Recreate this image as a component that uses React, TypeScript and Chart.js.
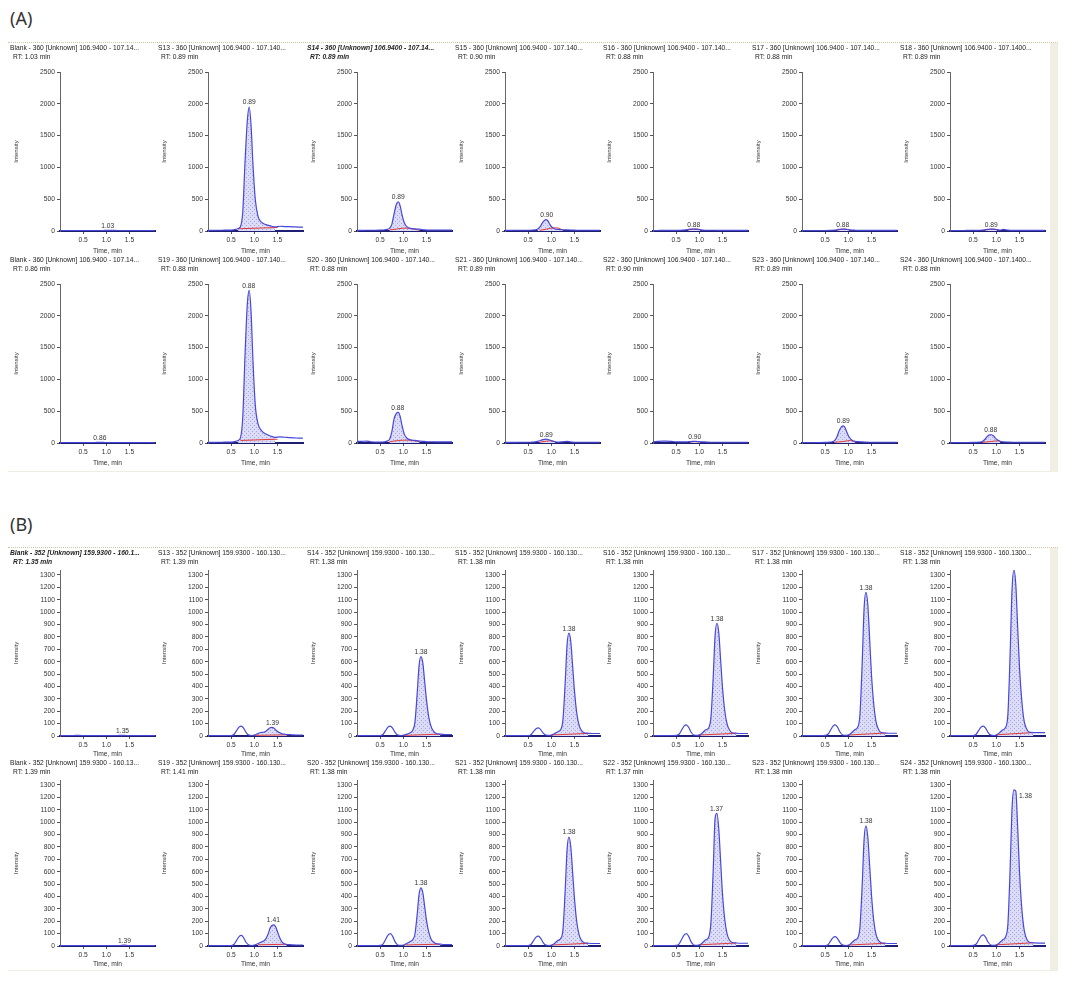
import React, { useEffect, useRef } from "react";
import { Chart, registerables } from "chart.js";
Chart.register(...registerables);
Chart.defaults.font.family = '"Liberation Sans", Arial, sans-serif';
Chart.defaults.color = "#333";

// ---------- shared axes ----------
const TIME_A = [0, 0.1, 0.2, 0.3, 0.4, 0.5, 0.6, 0.65, 0.7, 0.75, 0.8, 0.85, 0.89, 0.93, 0.97, 1.02, 1.08, 1.15, 1.25, 1.35, 1.45, 1.55, 1.65, 1.75, 1.85, 1.95, 2.05];
const TIME_B = [0, 0.1, 0.2, 0.3, 0.4, 0.5, 0.56, 0.62, 0.67, 0.72, 0.77, 0.82, 0.88, 0.95, 1.02, 1.08, 1.14, 1.2, 1.25, 1.3, 1.34, 1.38, 1.42, 1.46, 1.5, 1.55, 1.6, 1.65, 1.7, 1.8, 1.9, 2.0, 2.05];
const X_TICKS = [0.5, 1.0, 1.5];
const Y_TICKS_A = [0, 500, 1000, 1500, 2000, 2500];
const Y_TICKS_B = [0, 100, 200, 300, 400, 500, 600, 700, 800, 900, 1000, 1100, 1200, 1300];

// ---------- (A) titles / RT ----------
const A_TITLES = [
  "Blank - 360 [Unknown] 106.9400 - 107.14...",
  "S13 - 360 [Unknown] 106.9400 - 107.140...",
  "S14 - 360 [Unknown] 106.9400 - 107.14...",
  "S15 - 360 [Unknown] 106.9400 - 107.140...",
  "S16 - 360 [Unknown] 106.9400 - 107.140...",
  "S17 - 360 [Unknown] 106.9400 - 107.140...",
  "S18 - 360 [Unknown] 106.9400 - 107.1400...",
  "Blank - 360 [Unknown] 106.9400 - 107.14...",
  "S19 - 360 [Unknown] 106.9400 - 107.140...",
  "S20 - 360 [Unknown] 106.9400 - 107.140...",
  "S21 - 360 [Unknown] 106.9400 - 107.140...",
  "S22 - 360 [Unknown] 106.9400 - 107.140...",
  "S23 - 360 [Unknown] 106.9400 - 107.140...",
  "S24 - 360 [Unknown] 106.9400 - 107.1400...",
];
const A_RT = ["1.03", "0.89", "0.89", "0.90", "0.88", "0.88", "0.89", "0.86", "0.88", "0.88", "0.89", "0.90", "0.89", "0.88"];
const A_BOLD = [false, false, true, false, false, false, false, false, false, false, false, false, false, false];

// (A) traces on TIME_A
const A_BLANK_1 = [8, 8, 8, 8, 8, 8, 8, 8, 8, 8, 8, 8, 8, 8, 9, 10, 10, 9, 8, 8, 8, 8, 8, 8, 8, 8, 8];
const A_S13 = [10, 10, 12, 12, 15, 15, 25, 40, 70, 300, 1100, 1750, 1950, 1650, 1050, 500, 230, 140, 100, 80, 65, 75, 70, 68, 65, 62, 60];
const A_S14 = [10, 10, 12, 12, 12, 15, 20, 25, 40, 100, 270, 420, 460, 400, 260, 130, 65, 42, 32, 28, 20, 15, 15, 15, 14, 14, 14];
const A_S15 = [10, 10, 12, 12, 12, 12, 15, 18, 28, 60, 120, 165, 180, 155, 100, 55, 32, 25, 20, 18, 15, 12, 12, 12, 12, 12, 12];
const A_S16 = [8, 8, 10, 10, 10, 10, 12, 15, 18, 22, 28, 30, 30, 28, 25, 20, 15, 12, 12, 12, 10, 10, 10, 10, 10, 10, 10];
const A_S17 = [8, 8, 8, 8, 8, 8, 10, 12, 15, 20, 26, 30, 30, 28, 24, 20, 14, 12, 10, 10, 10, 10, 10, 10, 10, 10, 10];
const A_S18 = [8, 8, 8, 8, 10, 12, 10, 12, 15, 20, 25, 28, 30, 28, 25, 20, 15, 25, 15, 10, 10, 10, 10, 10, 10, 10, 10];
const A_BLANK_2 = [8, 8, 8, 8, 8, 8, 8, 8, 8, 8, 9, 10, 10, 9, 8, 8, 8, 8, 8, 8, 8, 8, 8, 8, 8, 8, 8];
const A_S19 = [10, 10, 12, 12, 15, 15, 25, 40, 80, 400, 1400, 2200, 2400, 2050, 1300, 600, 300, 200, 140, 110, 90, 95, 90, 85, 80, 78, 75];
const A_S20 = [25, 25, 30, 20, 15, 15, 20, 30, 55, 170, 380, 465, 480, 420, 280, 140, 75, 50, 40, 30, 25, 20, 20, 18, 18, 18, 18];
const A_S21 = [10, 10, 10, 12, 12, 12, 15, 18, 25, 35, 50, 58, 60, 55, 45, 30, 20, 15, 20, 25, 15, 12, 12, 12, 12, 12, 12];
const A_S22 = [20, 25, 30, 30, 25, 20, 18, 18, 18, 20, 22, 24, 25, 25, 22, 20, 18, 15, 12, 12, 12, 12, 12, 12, 12, 12, 12];
const A_S23 = [8, 8, 8, 8, 8, 10, 15, 20, 35, 90, 190, 255, 270, 240, 165, 90, 45, 25, 20, 15, 12, 12, 12, 12, 12, 12, 12];
const A_S24 = [8, 8, 8, 8, 8, 10, 12, 15, 25, 55, 100, 128, 130, 118, 85, 50, 28, 18, 15, 12, 12, 12, 12, 12, 12, 12, 12];
const A_TRACES = [A_BLANK_1, A_S13, A_S14, A_S15, A_S16, A_S17, A_S18, A_BLANK_2, A_S19, A_S20, A_S21, A_S22, A_S23, A_S24];

const A_WINDOWS = [[0.95, 1.1], [0.65, 1.5], [0.7, 1.35], [0.7, 1.25], [0.75, 1.05], [0.75, 1.05], [0.75, 1.05], [0.8, 0.95], [0.65, 1.5], [0.7, 1.35], [0.75, 1.1], [0.8, 1.02], [0.7, 1.15], [0.7, 1.1]];
const A_RED = [
  [[0.95, 8], [1.1, 8]],
  [[0.65, 35], [1.5, 55]],
  [[0.7, 15], [0.85, 30], [1.0, 45], [1.15, 40], [1.35, 12]],
  [[0.75, 10], [0.9, 30], [1.05, 50], [1.15, 45], [1.25, 15]],
  [[0.75, 12], [0.85, 28], [0.95, 30], [1.05, 15]],
  [[0.75, 10], [0.85, 26], [0.95, 28], [1.05, 12]],
  [[0.75, 12], [0.85, 25], [0.95, 28], [1.05, 14]],
  [[0.8, 8], [0.95, 8]],
  [[0.7, 40], [1.5, 60]],
  [[0.7, 20], [0.9, 40], [1.1, 45], [1.35, 20]],
  [[0.75, 12], [0.9, 30], [1.0, 35], [1.1, 15]],
  [[0.8, 12], [0.9, 22], [1.0, 15]],
  [[0.7, 10], [0.9, 25], [1.05, 40], [1.15, 12]],
  [[0.7, 10], [0.9, 25], [1.05, 35], [1.1, 12]],
];

// ---------- (B) titles / RT ----------
const B_TITLES = [
  "Blank - 352 [Unknown] 159.9300 - 160.1...",
  "S13 - 352 [Unknown] 159.9300 - 160.130...",
  "S14 - 352 [Unknown] 159.9300 - 160.130...",
  "S15 - 352 [Unknown] 159.9300 - 160.130...",
  "S16 - 352 [Unknown] 159.9300 - 160.130...",
  "S17 - 352 [Unknown] 159.9300 - 160.130...",
  "S18 - 352 [Unknown] 159.9300 - 160.1300...",
  "Blank - 352 [Unknown] 159.9300 - 160.13...",
  "S19 - 352 [Unknown] 159.9300 - 160.130...",
  "S20 - 352 [Unknown] 159.9300 - 160.130...",
  "S21 - 352 [Unknown] 159.9300 - 160.130...",
  "S22 - 352 [Unknown] 159.9300 - 160.130...",
  "S23 - 352 [Unknown] 159.9300 - 160.130...",
  "S24 - 352 [Unknown] 159.9300 - 160.1300...",
];
const B_RT = ["1.35", "1.39", "1.38", "1.38", "1.38", "1.38", "1.38", "1.39", "1.41", "1.38", "1.38", "1.37", "1.38", "1.38"];
const B_BOLD = [true, false, false, false, false, false, false, false, false, false, false, false, false, false];
const B_LABEL_MODE = ["top", "top", "top", "top", "top", "top", "none", "top", "top", "top", "top", "top", "top", "right"];

// (B) traces on TIME_B
const B_BLANK_1 = [3, 3, 3, 4, 5, 4, 3, 3, 3, 3, 3, 3, 3, 3, 3, 3, 3, 3, 4, 5, 6, 5, 4, 3, 3, 3, 3, 3, 3, 3, 3, 3, 3];
const B_S13 = [3, 3, 3, 3, 3, 4, 12, 45, 72, 80, 62, 30, 8, 4, 10, 20, 28, 30, 38, 55, 67, 70, 64, 50, 37, 26, 18, 15, 12, 10, 8, 8, 8];
const B_S14 = [3, 3, 3, 3, 3, 4, 12, 45, 72, 80, 62, 30, 8, 4, 8, 15, 25, 45, 110, 350, 570, 640, 590, 440, 290, 150, 75, 40, 22, 15, 12, 12, 12];
const B_S15 = [3, 3, 3, 3, 3, 4, 10, 38, 58, 65, 52, 25, 8, 5, 10, 22, 35, 50, 130, 440, 740, 830, 760, 560, 360, 180, 85, 45, 28, 22, 20, 20, 20];
const B_S16 = [3, 3, 3, 3, 3, 5, 14, 50, 80, 90, 70, 32, 8, 5, 12, 30, 50, 65, 150, 480, 810, 910, 830, 610, 390, 200, 95, 50, 28, 22, 20, 20, 20];
const B_S17 = [3, 3, 3, 3, 3, 5, 14, 50, 80, 90, 70, 32, 8, 5, 12, 30, 50, 70, 170, 600, 1030, 1160, 1060, 780, 490, 250, 110, 55, 30, 24, 22, 22, 22];
const B_S18 = [3, 3, 3, 3, 3, 4, 12, 45, 72, 80, 62, 30, 8, 4, 12, 30, 50, 70, 180, 690, 1190, 1340, 1220, 880, 550, 280, 120, 60, 32, 28, 28, 28, 28];
const B_BLANK_2 = [3, 3, 3, 3, 3, 3, 3, 3, 3, 3, 3, 3, 3, 3, 3, 3, 3, 3, 3, 4, 6, 8, 6, 4, 3, 3, 3, 3, 3, 3, 3, 3, 3];
const B_S19 = [3, 3, 3, 3, 3, 4, 12, 48, 76, 85, 66, 30, 8, 4, 10, 20, 30, 40, 60, 100, 145, 165, 170, 155, 115, 65, 32, 18, 12, 10, 8, 8, 8];
const B_S20 = [3, 3, 3, 3, 3, 5, 15, 55, 88, 100, 78, 35, 8, 5, 10, 22, 35, 50, 95, 260, 420, 470, 430, 320, 205, 110, 55, 32, 20, 15, 12, 12, 12];
const B_S21 = [3, 3, 3, 3, 3, 4, 12, 45, 72, 80, 62, 30, 8, 4, 10, 25, 45, 60, 130, 460, 780, 880, 800, 590, 380, 190, 90, 45, 28, 22, 20, 20, 20];
const B_S22 = [3, 3, 3, 3, 3, 5, 15, 55, 88, 100, 78, 35, 8, 5, 12, 30, 50, 70, 190, 620, 1030, 1070, 940, 680, 420, 210, 95, 48, 30, 24, 22, 22, 22];
const B_S23 = [3, 3, 3, 3, 3, 4, 10, 42, 68, 75, 58, 28, 8, 4, 10, 28, 48, 65, 150, 500, 860, 970, 880, 650, 410, 200, 90, 45, 28, 22, 20, 20, 20];
const B_S24 = [3, 3, 3, 3, 3, 5, 14, 50, 80, 90, 70, 32, 8, 5, 12, 30, 50, 75, 180, 650, 1120, 1260, 1250, 960, 600, 300, 130, 60, 32, 26, 24, 24, 24];
const B_TRACES = [B_BLANK_1, B_S13, B_S14, B_S15, B_S16, B_S17, B_S18, B_BLANK_2, B_S19, B_S20, B_S21, B_S22, B_S23, B_S24];

const B_WINDOWS = [[1.3, 1.42], [1.02, 1.7], [1.02, 1.8], [1.02, 1.8], [1.02, 1.8], [1.02, 1.8], [1.02, 1.8], [1.3, 1.46], [1.08, 1.7], [1.02, 1.8], [1.02, 1.8], [1.02, 1.8], [1.02, 1.8], [1.02, 1.8]];
const B_RED = [
  [[1.3, 3], [1.42, 3]],
  [[1.02, 5], [1.75, 10]],
  [[1.02, 5], [1.8, 15]],
  [[1.0, 8], [1.85, 22]],
  [[1.02, 8], [1.8, 22]],
  [[1.02, 8], [1.8, 24]],
  [[1.02, 10], [1.8, 28]],
  [[1.3, 3], [1.46, 3]],
  [[1.08, 10], [1.7, 14]],
  [[1.05, 8], [1.8, 15]],
  [[1.02, 8], [1.8, 22]],
  [[1.02, 10], [1.8, 24]],
  [[1.02, 8], [1.8, 22]],
  [[1.02, 10], [1.8, 26]],
];

// ---------- layout ----------
const COL_LEFT = [0, 148, 297, 445, 593, 742, 890];
const ROW_TOP_A = [35, 247];
const ROW_TOP_B = [540, 750];
const FONT = '"Liberation Sans", Arial, sans-serif';

function makePattern(ctx: CanvasRenderingContext2D) {
  const c = document.createElement("canvas");
  c.width = 4;
  c.height = 4;
  const g = c.getContext("2d")!;
  g.fillStyle = "#dcdcf6";
  g.fillRect(0, 0, 4, 4);
  g.fillStyle = "#a6a6e4";
  g.fillRect(0, 0, 1, 1);
  g.fillRect(2, 2, 1, 1);
  return ctx.createPattern(c, "repeat");
}

const annotPlugin = {
  id: "annot",
  afterDraw(chart: any, _args: any, opts: any) {
    const ctx = chart.ctx as CanvasRenderingContext2D;
    ctx.save();
    ctx.fillStyle = "#222";
    ctx.textAlign = "left";
    ctx.textBaseline = "middle";
    ctx.font = `${opts.bold ? "italic bold " : ""}6.7px ${FONT}`;
    ctx.fillText(opts.title, 2, 5);
    ctx.fillText(`RT: ${opts.rt} min`, 5, 14);
    if (opts.labelMode !== "none") {
      const rt = parseFloat(opts.rt);
      let m = 0;
      opts.time.forEach((t: number, i: number) => {
        if (Math.abs(t - rt) <= 0.06 && opts.values[i] > m) m = opts.values[i];
      });
      const xs = chart.scales.x;
      const ys = chart.scales.y;
      ctx.font = `6.7px ${FONT}`;
      ctx.fillStyle = "#333";
      if (opts.labelMode === "right") {
        ctx.textAlign = "left";
        ctx.fillText(opts.rt, xs.getPixelForValue(rt) + 5, ys.getPixelForValue(m) + 6);
      } else {
        ctx.textAlign = "center";
        ctx.textBaseline = "bottom";
        ctx.fillText(opts.rt, xs.getPixelForValue(rt), ys.getPixelForValue(m) - 1);
      }
    }
    ctx.restore();
  },
};

type Cfg = {
  title: string; rt: string; bold: boolean; time: number[]; values: number[];
  win: number[]; red: number[][]; yMax: number; yTicks: number[]; yLabelStep: number;
  padTop: number; xH: number; h: number; labelMode: string; left: number; top: number;
};

function Panel({ cfg }: { cfg: Cfg }) {
  const ref = useRef<HTMLCanvasElement>(null);
  useEffect(() => {
    const canvas = ref.current!;
    const ctx = canvas.getContext("2d")!;
    const pattern = makePattern(ctx);
    const pts = cfg.time.map((t, i) => ({ x: t, y: cfg.values[i] }));
    const fillPts = pts.filter((p) => p.x >= cfg.win[0] - 1e-9 && p.x <= cfg.win[1] + 1e-9);
    const redPts = cfg.red.map((p) => ({ x: p[0], y: p[1] }));
    const chart = new Chart(canvas, {
      type: "line",
      data: {
        datasets: [
          {
            data: pts, borderColor: "#4848d8", borderWidth: 1.2, pointRadius: 0,
            cubicInterpolationMode: "monotone", fill: false, order: 0,
          },
          {
            data: redPts, borderColor: "#e03a3a", borderWidth: 1, pointRadius: 0,
            cubicInterpolationMode: "monotone", fill: false, order: 1,
          },
          {
            data: fillPts, borderColor: "rgba(0,0,0,0)", borderWidth: 0, pointRadius: 0,
            cubicInterpolationMode: "monotone", fill: "origin",
            backgroundColor: pattern as any, order: 2,
          },
        ],
      },
      options: {
        animation: false,
        responsive: false,
        maintainAspectRatio: false,
        events: [],
        layout: { padding: { top: cfg.padTop, left: 2, right: 1, bottom: 0 } },
        plugins: {
          legend: { display: false },
          tooltip: { enabled: false },
          annot: {
            title: cfg.title, rt: cfg.rt, bold: cfg.bold, labelMode: cfg.labelMode,
            time: cfg.time, values: cfg.values,
          },
        } as any,
        scales: {
          x: {
            type: "linear",
            min: 0,
            max: 2.05,
            afterBuildTicks: (s: any) => { s.ticks = X_TICKS.map((v) => ({ value: v })); },
            afterFit: (s: any) => { s.height = cfg.xH; },
            ticks: {
              font: { size: 6.7 }, color: "#333", padding: 2, autoSkip: false, maxRotation: 0,
              callback: (v: any) => Number(v).toFixed(1),
            },
            grid: { drawOnChartArea: false, drawTicks: true, tickLength: 3, color: "#555" },
            border: { display: true, color: "#1e1e72", width: 2 },
            title: { display: true, text: "Time, min", font: { size: 6.7 }, color: "#333", padding: { top: 0, bottom: 0 } },
          },
          y: {
            type: "linear",
            min: 0,
            max: cfg.yMax,
            afterBuildTicks: (s: any) => { s.ticks = cfg.yTicks.map((v) => ({ value: v })); },
            afterFit: (s: any) => { s.width = 50; },
            ticks: {
              font: { size: 6.7 }, color: "#333", padding: 2, autoSkip: false,
              callback: (v: any) => (Number(v) % cfg.yLabelStep === 0 ? String(v) : ""),
            },
            grid: { drawOnChartArea: false, drawTicks: true, tickLength: 3, color: "#555" },
            border: { display: true, color: "#666", width: 1, dash: [2, 1] },
            title: { display: true, text: "Intensity", font: { size: 6 }, color: "#333", padding: { top: 3, bottom: 0 } },
          },
        },
      },
      plugins: [annotPlugin as any],
    });
    return () => chart.destroy();
  }, [cfg]);
  return (
    <canvas
      ref={ref}
      width={148}
      height={cfg.h}
      style={{ position: "absolute", left: cfg.left, top: cfg.top, width: 148, height: cfg.h }}
    />
  );
}

const PANELS: Cfg[] = [];
for (let i = 0; i < 14; i++) {
  const r = Math.floor(i / 7);
  const c = i % 7;
  PANELS.push({
    title: A_TITLES[i], rt: A_RT[i], bold: A_BOLD[i], time: TIME_A, values: A_TRACES[i],
    win: A_WINDOWS[i], red: A_RED[i], yMax: 2500, yTicks: Y_TICKS_A, yLabelStep: 500,
    padTop: 29, xH: 24, h: 212, labelMode: "top", left: COL_LEFT[c], top: ROW_TOP_A[r],
  });
}
for (let i = 0; i < 14; i++) {
  const r = Math.floor(i / 7);
  const c = i % 7;
  PANELS.push({
    title: B_TITLES[i], rt: B_RT[i], bold: B_BOLD[i], time: TIME_B, values: B_TRACES[i],
    win: B_WINDOWS[i], red: B_RED[i], yMax: 1340, yTicks: Y_TICKS_B, yLabelStep: 100,
    padTop: 22, xH: 22, h: 210, labelMode: B_LABEL_MODE[i], left: COL_LEFT[c], top: ROW_TOP_B[r],
  });
}

function Frame({ top, height }: { top: number; height: number }) {
  return (
    <div
      style={{
        position: "absolute", left: 0, top, width: 1050, height,
        borderTop: "1px dotted #cfc8a2", borderBottom: "1px solid #f0eee2", boxSizing: "border-box",
      }}
    >
      <div style={{ position: "absolute", right: 0, top: 0, width: 8, height: "100%", background: "#f1efe3" }} />
    </div>
  );
}

export default function App() {
  const label: React.CSSProperties = {
    position: "absolute", left: 2, fontFamily: '"Noto Sans", "DejaVu Sans", sans-serif',
    fontSize: 18, lineHeight: "20px", color: "#333",
  };
  return (
    <div style={{ position: "relative", width: 1070, height: 965, background: "#fff" }}>
      <div style={{ ...label, top: 0 }}>(A)</div>
      <div style={{ ...label, top: 506 }}>(B)</div>
      <Frame top={34} height={430} />
      <Frame top={539} height={424} />
      {PANELS.map((p, i) => (
        <Panel key={i} cfg={p} />
      ))}
    </div>
  );
}
